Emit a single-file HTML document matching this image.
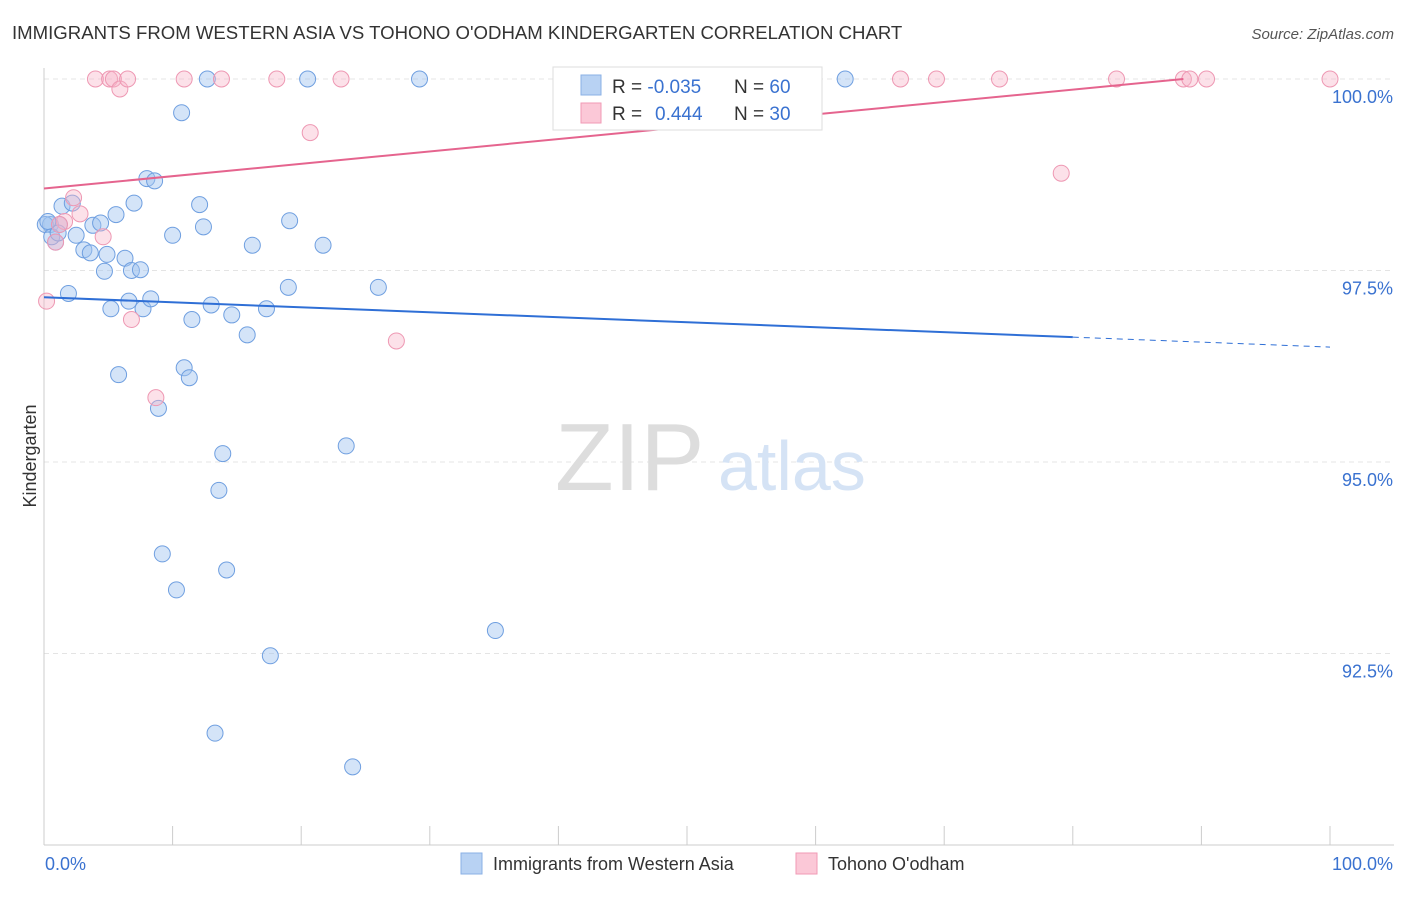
<!DOCTYPE html>
<html><head><meta charset="utf-8"><style>
body{margin:0;background:#fff;font-family:"Liberation Sans",sans-serif}
svg text{font-family:"Liberation Sans",sans-serif}
</style></head><body>
<svg width="1406" height="892">
<text x="12" y="39" font-size="18.6" fill="#333">IMMIGRANTS FROM WESTERN ASIA VS TOHONO O'ODHAM KINDERGARTEN CORRELATION CHART</text>
<text x="1394" y="39" font-size="15" fill="#555" text-anchor="end" font-style="italic">Source: ZipAtlas.com</text>
<g id="grid"></g>
<line x1="44" y1="68" x2="44" y2="845" stroke="#ccc"/>
<line x1="44" y1="845" x2="1394" y2="845" stroke="#ccc"/>
<g id="xticks"></g>
<text x="30" y="462" font-size="18" fill="#333" transform="rotate(-90 30 456)" text-anchor="middle">Kindergarten</text>
<text x="555" y="490" font-size="96" fill="#ddd" font-family="Liberation Serif">ZIP</text>
<text x="718" y="490" font-size="70" fill="#d5e3f5">atlas</text>
<g id="pts"></g>
<g id="lines"></g>
<g>
<rect x="553" y="67" width="269" height="63" fill="#fff" stroke="#ddd"/>
<rect x="581" y="75" width="20" height="20" fill="#b8d2f3" stroke="#8ab0e6"/>
<rect x="581" y="103" width="20" height="20" fill="#fbc8d7" stroke="#f09ab5"/>
<text x="612" y="93" font-size="19" fill="#333">R = <tspan fill="#3a72d0">-0.035</tspan><tspan x="734">N = </tspan><tspan fill="#3a72d0">60</tspan></text>
<text x="612" y="120" font-size="19" fill="#333">R = <tspan x="655" fill="#3a72d0">0.444</tspan><tspan x="734">N = </tspan><tspan fill="#3a72d0">30</tspan></text>
</g>
<text x="45" y="870" font-size="18" fill="#3a72d0">0.0%</text>
<text x="1393" y="870" font-size="18" fill="#3a72d0" text-anchor="end">100.0%</text>
<rect x="461" y="853" width="21" height="21" fill="#b8d2f3" stroke="#8ab0e6"/>
<text x="493" y="870" font-size="18" fill="#333">Immigrants from Western Asia</text>
<rect x="796" y="853" width="21" height="21" fill="#fbc8d7" stroke="#f09ab5"/>
<text x="828" y="870" font-size="18" fill="#333">Tohono O'odham</text>
</svg>
<script>
const yTicks=[100,97.5,95,92.5];
const yTickLabels=["100.0%","97.5%","95.0%","92.5%"];
const blueX=[0.5,0.9,1.4,1.2,2.2,1.9,2.5,3.1,3.6,3.8,4.4,4.7,4.9,5.2,5.6,5.8,6.3,6.6,6.8,7.0,7.5,7.7,8.0,8.3,8.6,8.9,9.2,10.0,10.3,10.7,10.9,11.3,11.5,12.1,12.4,12.7,13.0,13.3,13.6,13.9,14.2,14.6,15.8,16.2,17.3,17.6,19.0,19.1,20.5,21.7,23.5,24.0,26.0,29.2,35.1,62.3,0.1,0.6,1.1,0.3];
const blueY=[98.1,97.87,98.34,98.1,98.38,97.2,97.96,97.77,97.73,98.09,98.12,97.49,97.71,97.0,98.23,96.14,97.66,97.1,97.5,98.38,97.51,97.0,98.7,97.13,98.67,95.7,93.8,97.96,93.33,99.56,96.23,96.1,96.86,98.36,98.07,100,97.05,91.46,94.63,95.11,93.59,96.92,96.66,97.83,97.0,92.47,97.28,98.15,100,97.83,95.21,91.02,97.28,100,92.8,100,98.1,97.94,97.99,98.14];
const pinkX=[0.2,0.9,1.6,2.3,2.8,4.0,4.6,5.1,5.4,5.9,6.5,6.8,8.7,10.9,13.8,18.1,20.7,23.1,27.4,47.7,66.6,69.4,74.3,79.1,83.4,88.6,89.1,90.4,100,1.2];
const pinkY=[97.1,97.87,98.14,98.45,98.24,100,97.94,100,100,99.87,100,96.86,95.84,100,100,100,99.3,100,96.58,100,100,100,100,98.77,100,100,100,100,100,98.1];
const blueFit=[97.15,96.63];
const pinkFit=[98.57,100];
const X0=44,X1=1330,Y100=79,PX=191.5;
const sx=v=>X0+(X1-X0)*v/100;
const sy=v=>Y100+(100-v)/2.5*PX;
const NS="http://www.w3.org/2000/svg";
function mk(t,a,p){const e=document.createElementNS(NS,t);for(const k in a)e.setAttribute(k,a[k]);p.appendChild(e);return e;}
const grid=document.getElementById('grid');
yTicks.forEach((t,i)=>{
 const l=mk('line',{x1:44,x2:1394,y1:sy(t),y2:sy(t),stroke:'#e4e4e4','stroke-dasharray':'5,4'},grid);
 
 
 const tx=mk('text',{x:1393,y:sy(t)+24,'font-size':18,fill:'#3a72d0','text-anchor':'end'},grid);
 tx.textContent=yTickLabels[i];
 
 
});
const xt=document.getElementById('xticks');
for(let i=0;i<=10;i++){
 const l=mk('line',{x1:sx(i*10),x2:sx(i*10),y1:826,y2:845,stroke:'#ccc'},xt);
 
 
}
const pts=document.getElementById('pts');
blueX.forEach((x,i)=>{
 const c=mk('circle',{cx:sx(x),cy:sy(blueY[i]),r:8,fill:'rgba(160,196,240,0.45)',stroke:'#6f9fe0','stroke-width':1},pts);
 
 
});
pinkX.forEach((x,i)=>{
 const c=mk('circle',{cx:sx(x),cy:sy(pinkY[i]),r:8,fill:'rgba(248,180,200,0.4)',stroke:'#ee98b3','stroke-width':1},pts);
 
 
});
const ln=document.getElementById('lines');
const slope=(blueFit[1]-blueFit[0])/80;
const b1=mk('line',{x1:sx(0),y1:sy(blueFit[0]),x2:sx(80),y2:sy(blueFit[1]),stroke:'#2f6fd6','stroke-width':2},ln);


const b2=mk('line',{x1:sx(80),y1:sy(blueFit[1]),x2:sx(100),y2:sy(blueFit[1]+slope*20),stroke:'#2f6fd6','stroke-width':1,'stroke-dasharray':'6,5'},ln);


const p1=mk('line',{x1:sx(0),y1:sy(pinkFit[0]),x2:sx(88.6),y2:sy(pinkFit[1]),stroke:'#e5648e','stroke-width':2},ln);


</script>
</body></html>
